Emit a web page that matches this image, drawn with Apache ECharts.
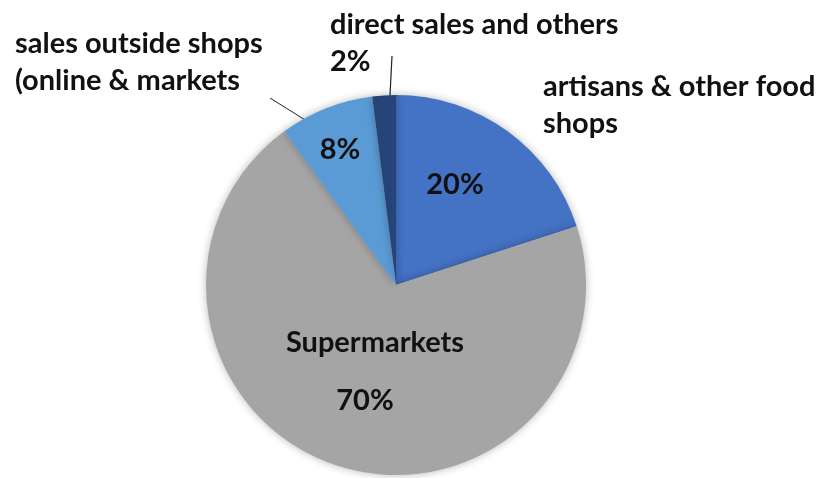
<!DOCTYPE html>
<html>
<head>
<meta charset="utf-8">
<script src="https://cdn.jsdelivr.net/npm/echarts@6/dist/echarts.min.js"></script>
<style>
  html, body { margin: 0; padding: 0; background: #ffffff; }
  #chart { width: 823px; height: 478px; }
</style>
</head>
<body>
<div id="chart"></div>
<script>
// Food sales by channel (share of total, %)
const categories = [
  'artisans & other food\nshops',
  'Supermarkets',
  'sales outside shops\n(online & markets',
  'direct sales and others'
];
const shares = [20, 70, 8, 2];
const sliceColors = ['#4472C4', '#A5A5A5', '#5B9BD5', '#264478'];

const FONT = 'Lato';
const FS = 29;
const CX = 396, CY = 285, R = 190;

// Where each in-slice label sits (centre of the text block)
const insideLabelPos = [
  [455, 185],           // 20%
  [375, 372],           // Supermarkets / 70%
  [340, 150],           // 8%
  null                  // 2% is placed outside
];

const chart = echarts.init(document.getElementById('chart'), null, { renderer: 'canvas' });

const data = categories.map((name, i) => ({
  name: name,
  value: shares[i],
  itemStyle: { color: sliceColors[i] }
}));

// Point on the pie at the angular position of a slice (fraction t through it)
function piePoint(index, t, radiusFrac) {
  const total = shares.reduce((a, b) => a + b, 0);
  let before = 0;
  for (let k = 0; k < index; k++) before += shares[k];
  const frac = (before + shares[index] * t) / total;
  const ang = frac * Math.PI * 2; // clockwise from 12 o'clock
  return [CX + Math.sin(ang) * R * radiusFrac, CY - Math.cos(ang) * R * radiusFrac];
}

const textStyle = { fontFamily: FONT, fontWeight: 'bold', fontSize: FS, fill: '#111111', lineHeight: 37 };

const pOut = piePoint(2, 0.31, 0.94);
const pDir = piePoint(3, 0.68, 0.905);

chart.setOption({
  backgroundColor: '#ffffff',
  animation: false,
  series: [{
    type: 'pie',
    center: [CX, CY],
    radius: [0, R],
    startAngle: 90,
    clockwise: true,
    data: data,
    itemStyle: {
      shadowBlur: 8,
      shadowColor: 'rgba(0,0,0,0.28)'
    },
    label: {
      show: true,
      position: 'inside',
      fontFamily: FONT,
      fontWeight: 'bold',
      fontSize: FS,
      color: '#111111',
      formatter: function (p) {
        if (p.dataIndex === 1) return '{a|Supermarkets}\n{b|' + p.value + '%}';
        if (p.dataIndex === 3) return '';
        return p.value + '%';
      },
      rich: {
        a: { fontFamily: FONT, fontWeight: 'bold', fontSize: FS, color: '#111111', lineHeight: 58 },
        b: { fontFamily: FONT, fontWeight: 'bold', fontSize: FS, color: '#111111', lineHeight: 58, padding: [0, 20, 0, 0] }
      }
    },
    labelLine: { show: false },
    labelLayout: function (params) {
      const pos = insideLabelPos[params.dataIndex];
      if (!pos) return {};
      return { x: pos[0], y: pos[1], align: 'center', verticalAlign: 'middle' };
    }
  }],
  graphic: [
    { type: 'text', left: 330, top: 6, style: Object.assign({ text: categories[3] }, textStyle) },
    { type: 'text', left: 330, top: 43, style: Object.assign({ text: shares[3] + '%' }, textStyle) },
    { type: 'text', left: 15, top: 25, style: Object.assign({ text: categories[2] }, textStyle) },
    { type: 'text', left: 543, top: 68, style: Object.assign({ text: categories[0] }, textStyle) },
    { type: 'line', shape: { x1: 270, y1: 98, x2: pOut[0], y2: pOut[1] }, style: { stroke: '#222222', lineWidth: 1 } },
    { type: 'line', shape: { x1: 392, y1: 56, x2: pDir[0], y2: pDir[1] }, style: { stroke: '#222222', lineWidth: 1.2 } }
  ]
});
</script>
</body>
</html>
